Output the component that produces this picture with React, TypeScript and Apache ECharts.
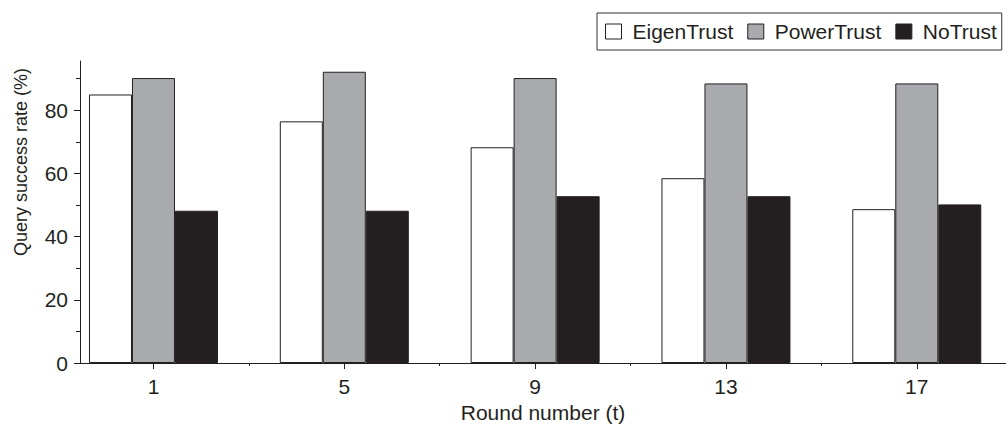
import React, { useEffect, useRef } from "react";
import * as echarts from "echarts";

const rounds = [1, 5, 9, 13, 17];
const eigenTrust = [85, 76.5, 68.3, 58.5, 48.7];
const powerTrust = [90.2, 92.2, 90.2, 88.5, 88.5];
const noTrust = [48.2, 48.2, 52.8, 52.8, 50.2];
const yMajorTicks = [0, 20, 40, 60, 80];
const yMinorTicks = [10, 30, 50, 70, 90];
const xMinorTicks = [3, 7, 11, 15];
const seriesNames = ["EigenTrust", "PowerTrust", "NoTrust"];
const xTitle = "Round number (t)";
const yTitle = "Query success rate (%)";

const FONT = "'Liberation Sans', Arial, Helvetica, sans-serif";
const INK = "#231f20";

export default function App() {
  const ref = useRef<HTMLDivElement>(null);
  useEffect(() => {
    if (!ref.current) return;
    const chart = echarts.init(ref.current, null, { renderer: "svg" });
    const pairs = (vals: number[]) => rounds.map((r, i) => [r, vals[i]]);
    const fills = ["#ffffff", "#a9aaae", INK];
    const all = [eigenTrust, powerTrust, noTrust];
    const xMin = -0.54;
    const xMax = 18.87;
    const yMax = 95.6;
    chart.setOption({
      animation: false,
      textStyle: { fontFamily: FONT },
      grid: { left: 80, right: 0, top: 61, bottom: 62, outerBoundsMode: "none", containLabel: false },
      graphic: [
        {
          type: "text",
          x: 21,
          y: 162,
          rotation: Math.PI / 2,
          style: {
            text: yTitle,
            fontSize: 18,
            fontFamily: FONT,
            fill: INK,
            align: "center",
            verticalAlign: "middle",
          },
        },
      ],
      legend: {
        left: 597,
        top: 13,
        padding: [8, 5, 8, 8],
        borderColor: "#333",
        borderWidth: 1,
        itemWidth: 16,
        itemHeight: 15,
        itemGap: 14,
        icon: "rect",
        textStyle: { fontSize: 21, color: INK, fontFamily: FONT, padding: [0, 0, 0, 6] },
        data: seriesNames.map((n, i) => ({
          name: n,
          itemStyle: { color: fills[i], borderColor: INK, borderWidth: 1 },
        })),
      },
      xAxis: [
        {
          type: "value",
          min: xMin,
          max: xMax,
          name: xTitle,
          nameLocation: "middle",
          nameGap: 39,
          nameTextStyle: { fontSize: 21, color: INK, fontFamily: FONT },
          axisLine: { show: true, onZero: false, lineStyle: { color: INK, width: 1 } },
          axisTick: { show: true, customValues: rounds, length: 6, lineStyle: { color: INK } },
          axisLabel: { customValues: rounds, fontSize: 21, color: INK, margin: 13, fontFamily: FONT },
          splitLine: { show: false },
        },
        {
          type: "value",
          min: xMin,
          max: xMax,
          position: "bottom",
          axisLine: { show: false, onZero: false },
          axisTick: { show: true, customValues: xMinorTicks, length: 3, lineStyle: { color: INK } },
          axisLabel: { show: false },
          splitLine: { show: false },
        },
      ],
      yAxis: [
        {
          type: "value",
          min: 0,
          max: yMax,
          position: "left",
          axisLine: { show: true, onZero: false, lineStyle: { color: INK, width: 1 } },
          axisTick: { show: true, customValues: yMajorTicks, length: 6, lineStyle: { color: INK } },
          axisLabel: { customValues: yMajorTicks, fontSize: 21, color: INK, margin: 12, fontFamily: FONT },
          splitLine: { show: false },
        },
        {
          type: "value",
          min: 0,
          max: yMax,
          position: "left",
          axisLine: { show: false, onZero: false },
          axisTick: { show: true, customValues: yMinorTicks, length: 4, lineStyle: { color: INK } },
          axisLabel: { show: false },
          splitLine: { show: false },
        },
      ],
      series: seriesNames.map((n, i) => ({
        name: n,
        type: "bar",
        xAxisIndex: 0,
        yAxisIndex: 0,
        barWidth: 43,
        barGap: "0%",
        data: pairs(all[i]),
        itemStyle: { color: fills[i], borderColor: INK, borderWidth: 1 },
      })),
    });
    return () => chart.dispose();
  }, []);
  return (
    <div
      ref={ref}
      style={{ position: "absolute", left: 0, top: 0, width: 1006, height: 425 }}
    />
  );
}
